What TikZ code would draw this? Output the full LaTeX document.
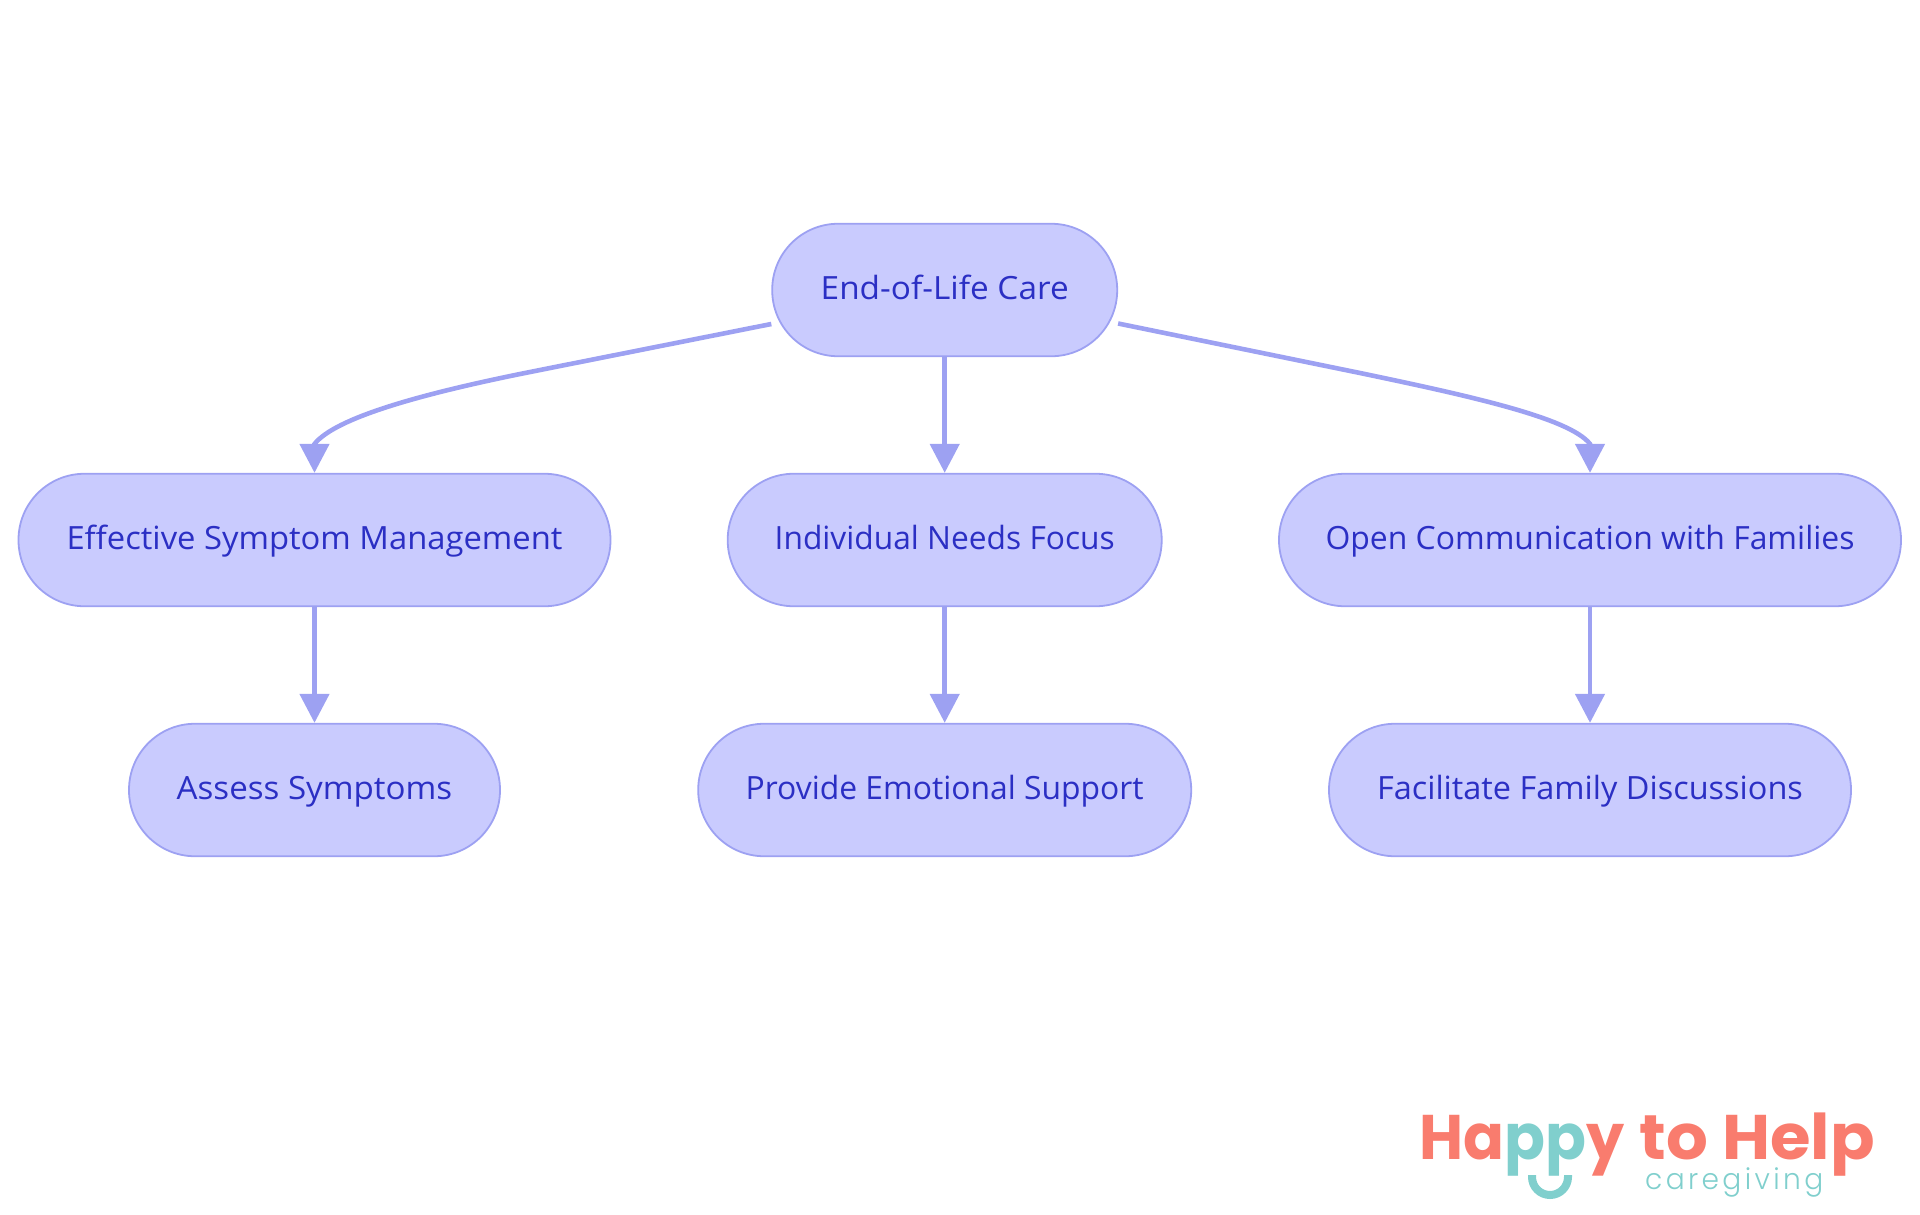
\documentclass[tikz,border=0pt]{standalone}
\usepackage{fontspec}
\usepackage{graphicx}
\setmainfont{Open Sans}
\newfontfamily\logofont{Poppins}[UprightFont=* Bold]
\newfontfamily\logolight{Poppins}[UprightFont=* Light,LetterSpace=12]
\usetikzlibrary{arrows.meta,calc}
\definecolor{nodefill}{HTML}{C9CBFE}
\definecolor{nodeline}{HTML}{9DA1F2}
\definecolor{nodetext}{HTML}{2B2FC4}
\definecolor{coral}{HTML}{F97C6E}
\definecolor{teal}{HTML}{80CFCD}
\newcommand{\boxlabel}[2]{\raisebox{-9pt}[0pt][0pt]{\resizebox{#1pt}{\height}{#2}}}
\tikzset{
  box/.style={draw=nodeline,fill=nodefill,line width=1.8pt,rounded corners=66pt,minimum height=132.5pt,
    text=nodetext,inner sep=0pt,font=\fontsize{32}{36}\selectfont},
  link/.style={draw=nodeline,line width=4.6pt,-{Triangle[width=29pt,length=29pt]}},
}
\begin{document}
\begin{tikzpicture}[x=1pt,y=-1pt]
\useasboundingbox (0,0) rectangle (1920,1215);
\node[box,minimum width=345pt] (root) at (944.7,290) {\boxlabel{248}{End-of-Life Care}};
\node[box,minimum width=592pt] (a) at (314.5,540) {\boxlabel{496}{Effective Symptom Management}};
\node[box,minimum width=434pt] (b) at (944.7,540) {\boxlabel{340}{Individual Needs Focus}};
\node[box,minimum width=622pt] (c) at (1590,540) {\boxlabel{529}{Open Communication with Families}};
\node[box,minimum width=371pt] (a2) at (314.5,790) {\boxlabel{275.5}{Assess Symptoms}};
\node[box,minimum width=493pt] (b2) at (944.7,790) {\boxlabel{398}{Provide Emotional Support}};
\node[box,minimum width=522pt] (c2) at (1590,790) {\boxlabel{426}{Facilitate Family Discussions}};
\coordinate (rl) at ($(root.west)+(0,34)$);
\coordinate (rr) at ($(root.east)+(0,33.5)$);
\draw[link] (rl) -- (530,372) .. controls (420,394) and (335,418) .. (314.5,444) -- (a.north);
\draw[link] (rr) -- (1360,373) .. controls (1470,396) and (1570,418) .. (1590,444) -- (c.north);
\draw[link] (root) -- (b);
\draw[link] (a) -- (a2);
\draw[link] (b) -- (b2);
\draw[link] (c) -- (c2);
\node[anchor=base west,inner sep=0pt,text=coral,font=\logofont\fontsize{63}{63}\selectfont] (logo) at (1419.5,1159) {\resizebox{205pt}{\height}{Ha\textcolor{teal}{pp}y}\hspace{15pt}\resizebox{235pt}{\height}{to Help}};
\node[anchor=base west,inner sep=0pt,text=teal,font=\logolight\fontsize{29}{29}\selectfont] (sub) at (1645,1189) {\resizebox{178pt}{\height}{caregiving}};
\draw[teal,line width=8pt] (1532,1175) -- (1532,1177) arc[start angle=180,end angle=0,radius=18] -- (1568,1175);
\end{tikzpicture}
\end{document}
